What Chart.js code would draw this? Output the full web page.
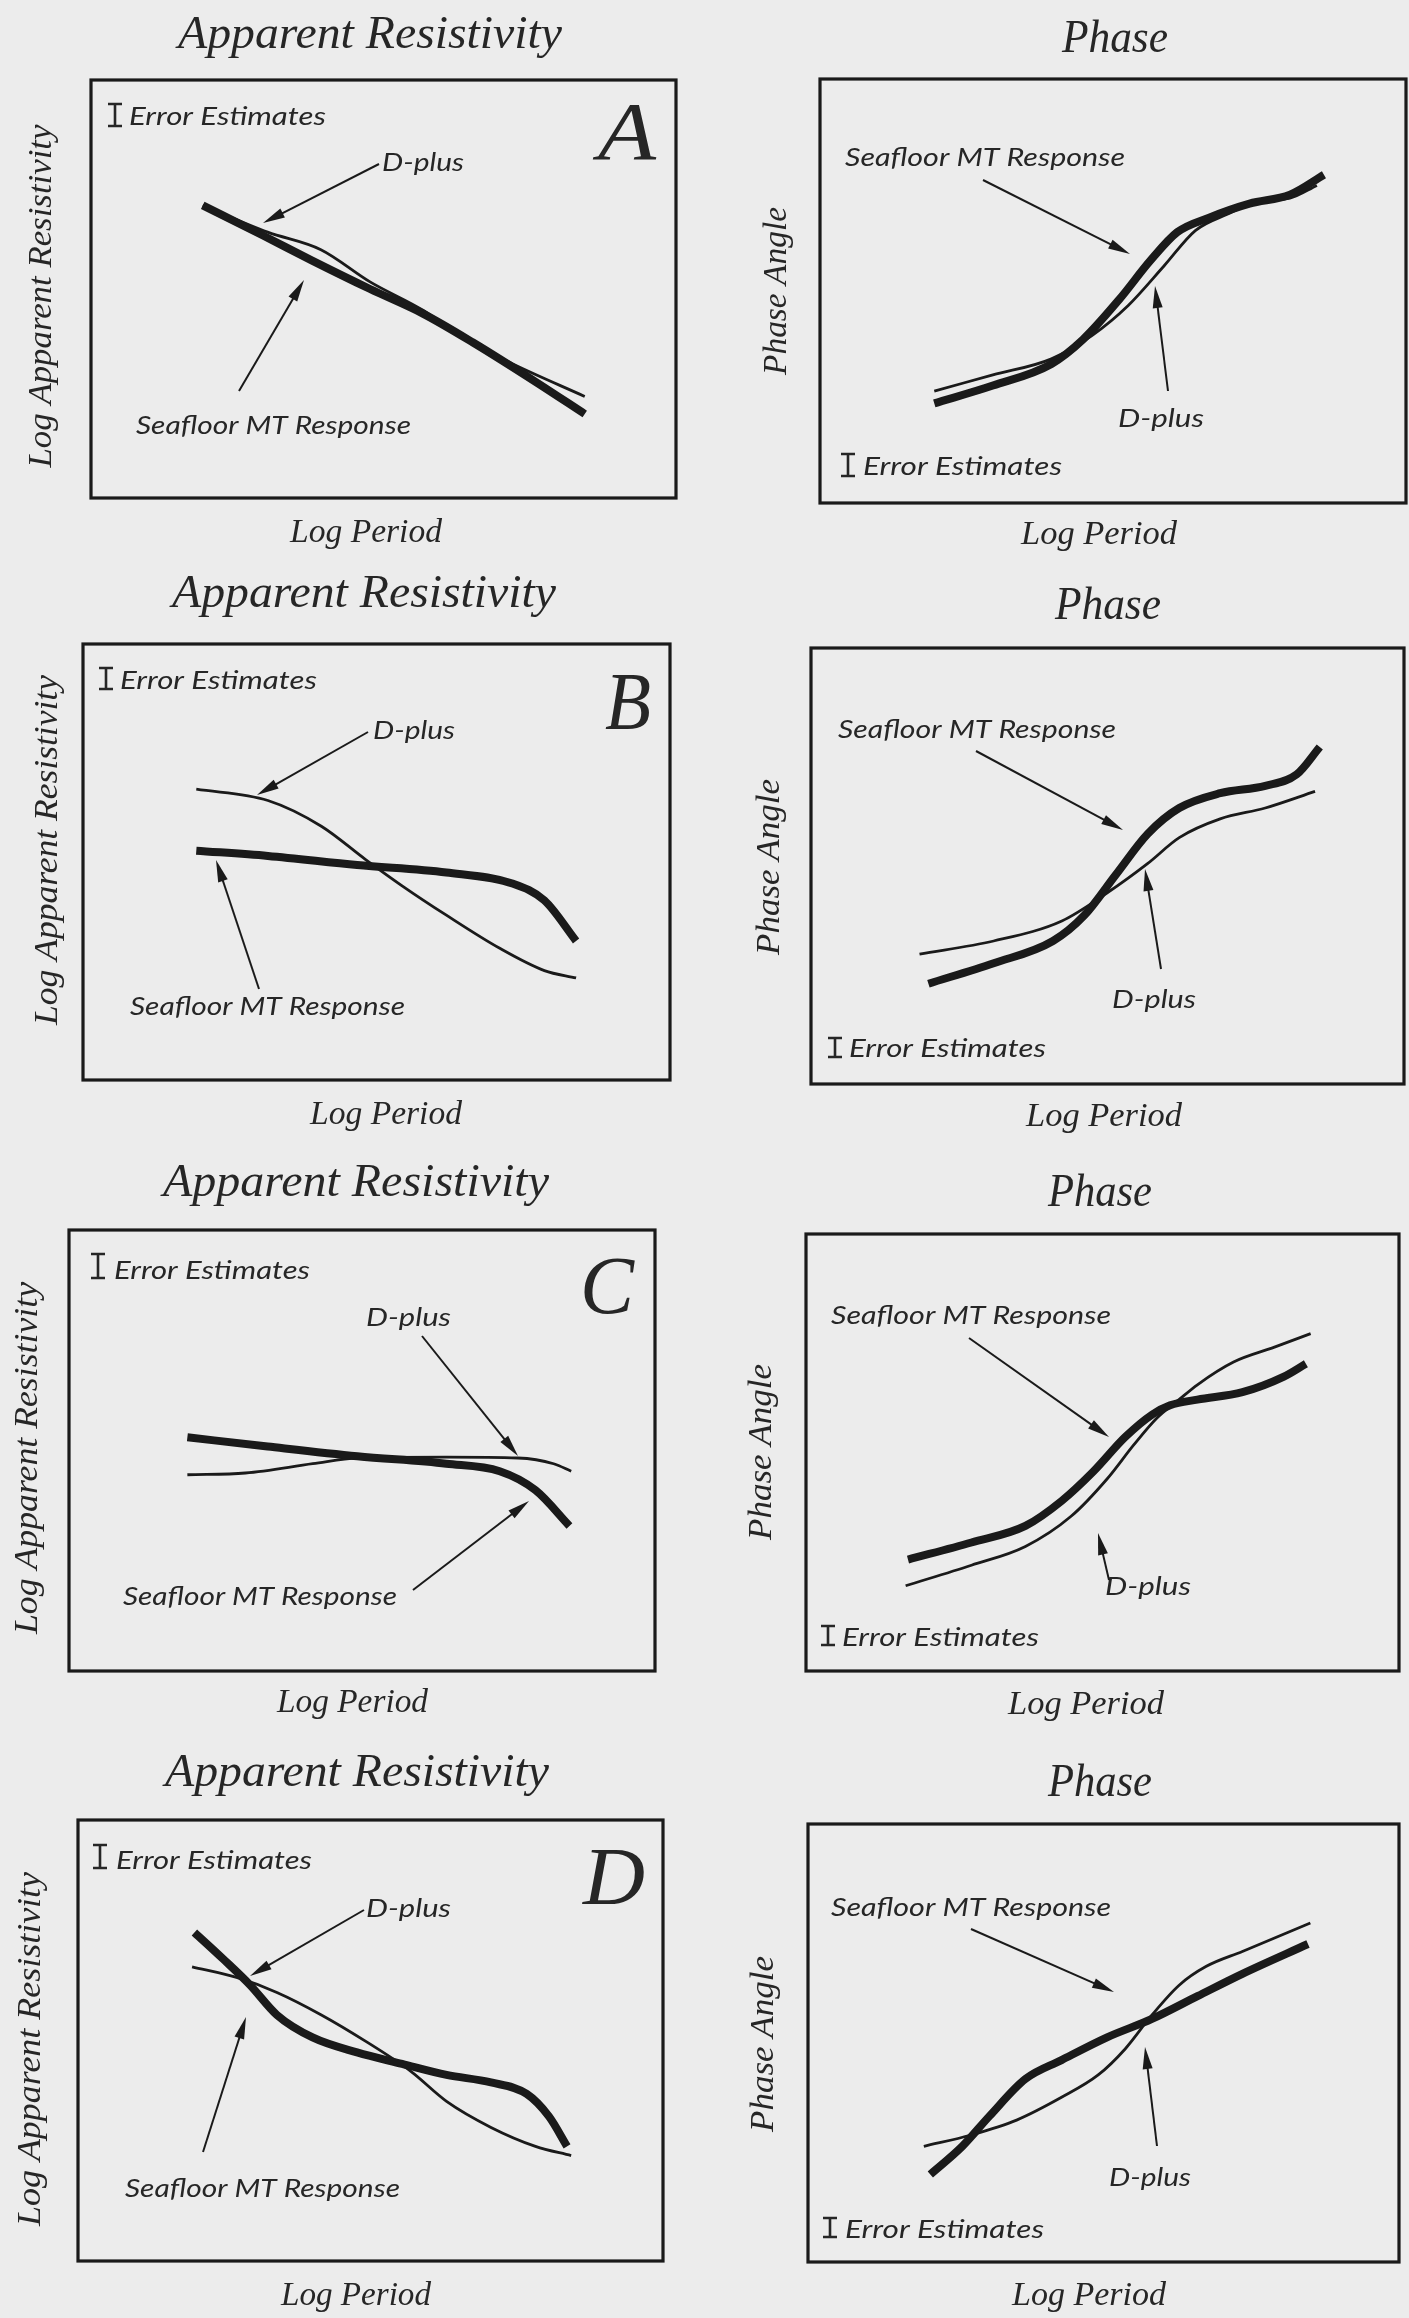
<!DOCTYPE html>
<html>
<head>
<meta charset="utf-8">
<title>Seafloor MT Response and D-plus</title>
<script src="https://cdn.jsdelivr.net/npm/chart.js@4.4.1/dist/chart.umd.min.js"></script>
<style>
  html, body { margin: 0; padding: 0; background: #ececec; }
  #page { position: relative; width: 1409px; height: 2318px; overflow: hidden; background: #ececec; }
  #page canvas { position: absolute; }
</style>
</head>
<body>
<div id="page"></div>
<script>
// Log period runs 0-100 across each box, responses 0-100 up each box.

// A - apparent resistivity
const seaPeriodA = [19.1, 29.4, 37.8, 47.7, 56.9, 65.3, 76.0, 84.4];
const seaRhoA    = [70.0, 62.8, 56.8, 50.0, 44.0, 37.2, 27.8, 20.1];
const dpPeriodA  = [19.1, 30.2, 39.3, 47.7, 56.9, 63.8, 72.2, 84.4];
const dpRhoA     = [70.0, 63.6, 59.4, 51.7, 44.8, 38.0, 32.0, 24.3];
// A - phase
const seaPeriodPhA = [19.5, 29.5, 39.5, 44.9, 51.0, 56.4, 61.0, 66.4, 73.3, 80.2, 86.0];
const seaPhaseA    = [23.5, 27.7, 32.8, 38.6, 47.9, 57.2, 63.9, 67.3, 70.6, 72.7, 77.4];
const dpPeriodPhA  = [19.5, 29.5, 39.5, 46.4, 52.6, 58.7, 64.1, 69.5, 74.8, 80.2, 84.8];
const dpPhaseA     = [26.4, 30.2, 34.0, 39.5, 46.6, 55.9, 64.3, 68.1, 71.1, 71.9, 74.9];

// B - apparent resistivity
const seaPeriodB = [19.3, 31.5, 46.7, 61.9, 73.3, 78.6, 84.0];
const seaRhoB    = [52.6, 51.4, 49.3, 47.6, 45.0, 41.2, 31.9];
const dpPeriodB  = [19.3, 31.5, 40.6, 48.2, 54.3, 61.9, 71.0, 78.6, 84.0];
const dpRhoB     = [66.7, 64.1, 58.2, 50.5, 44.6, 37.8, 30.2, 25.1, 23.4];
// B - phase
const seaPeriodPhB = [19.8, 30.8, 40.8, 46.1, 51.4, 56.8, 62.1, 69.0, 76.6, 81.9, 85.8];
const seaPhaseB    = [23.0, 27.7, 32.8, 38.7, 48.0, 57.4, 63.3, 66.7, 68.4, 71.0, 77.3];
const dpPeriodPhB  = [18.3, 30.8, 42.3, 49.9, 56.8, 62.1, 69.0, 76.6, 85.0];
const dpPhaseB     = [29.8, 32.8, 37.4, 43.8, 50.6, 56.5, 60.8, 63.3, 67.1];

// C - apparent resistivity
const seaPeriodC = [20.2, 33.9, 49.2, 64.4, 73.5, 79.6, 85.4];
const seaRhoC    = [53.0, 50.9, 48.7, 47.0, 45.3, 41.0, 32.9];
const dpPeriodC  = [20.2, 30.1, 41.6, 49.2, 64.4, 76.6, 82.7, 85.7];
const dpRhoC     = [44.5, 44.9, 47.0, 48.3, 48.5, 48.3, 47.0, 45.3];
// C - phase
const seaPeriodPhC = [17.2, 27.9, 37.0, 43.1, 48.5, 53.8, 58.4, 61.4, 66.0, 73.6, 80.5, 84.3];
const seaPhaseC    = [25.5, 29.4, 33.2, 38.9, 45.7, 53.5, 58.7, 60.8, 62.1, 63.8, 67.3, 70.3];
const dpPeriodPhC  = [16.8, 27.9, 37.0, 44.7, 50.8, 55.3, 59.1, 62.9, 66.0, 72.1, 79.0, 85.1];
const dpPhaseC     = [19.5, 24.2, 28.5, 35.4, 44.0, 51.8, 57.8, 62.1, 65.5, 70.7, 74.1, 77.2];

// D - apparent resistivity
const seaPeriodD = [19.9, 24.8, 29.4, 34.0, 40.1, 47.7, 55.4, 63.0, 70.6, 76.7, 80.5, 83.6];
const seaRhoD    = [74.5, 68.5, 62.6, 55.8, 50.7, 47.3, 44.7, 42.2, 40.5, 37.9, 32.8, 26.0];
const dpPeriodD  = [19.5, 27.1, 34.0, 41.6, 49.2, 56.9, 63.0, 70.6, 78.2, 84.3];
const dpRhoD     = [66.7, 64.3, 60.9, 55.8, 49.8, 43.0, 36.2, 30.3, 26.0, 23.9];
// D - phase
const seaPeriodPhD = [20.7, 26.1, 30.7, 36.8, 42.9, 50.6, 58.2, 65.9, 73.5, 84.6];
const seaPhaseD    = [20.0, 26.4, 33.3, 41.8, 46.1, 51.3, 55.5, 60.7, 65.8, 72.6];
const dpPeriodPhD  = [19.6, 27.6, 35.3, 42.9, 49.1, 53.7, 58.2, 62.8, 67.4, 73.5, 85.0];
const dpPhaseD     = [26.4, 29.0, 32.4, 37.6, 42.7, 48.7, 56.4, 63.2, 67.5, 70.9, 77.4];

const INK = "#1a1a1a";
const TEXT_INK = "#262626";
const SERIF = '"Liberation Serif", serif';
const SANS = 'Lato, "Open Sans", sans-serif';

const pts = (xs, ys) => xs.map((x, i) => ({ x, y: ys[i] }));

// draw text from a left baseline point, squeezed/stretched to a set length
function putText(ctx, str, x, y, font, width) {
  ctx.font = font;
  const w = ctx.measureText(str).width;
  ctx.save();
  ctx.translate(x, y);
  if (width) ctx.scale(width / w, 1);
  ctx.textAlign = "left";
  ctx.textBaseline = "alphabetic";
  ctx.fillText(str, 0, 0);
  ctx.restore();
}

function putVertical(ctx, str, cx, cy, font, length) {
  ctx.font = font;
  const w = ctx.measureText(str).width;
  ctx.save();
  ctx.translate(cx, cy);
  ctx.rotate(-Math.PI / 2);
  if (length) ctx.scale(length / w, 1);
  ctx.textAlign = "center";
  ctx.textBaseline = "middle";
  ctx.fillText(str, 0, 0);
  ctx.restore();
}

function arrow(ctx, x1, y1, x2, y2) {
  const ang = Math.atan2(y2 - y1, x2 - x1);
  const headLen = 22, headW = 5;
  ctx.save();
  ctx.strokeStyle = INK;
  ctx.fillStyle = INK;
  ctx.lineWidth = 2;
  ctx.beginPath();
  ctx.moveTo(x1, y1);
  ctx.lineTo(x2 - Math.cos(ang) * headLen * 0.8, y2 - Math.sin(ang) * headLen * 0.8);
  ctx.stroke();
  ctx.translate(x2, y2);
  ctx.rotate(ang);
  ctx.beginPath();
  ctx.moveTo(0, 0);
  ctx.lineTo(-headLen, -headW);
  ctx.lineTo(-headLen, headW);
  ctx.closePath();
  ctx.fill();
  ctx.restore();
}

function errorBar(ctx, x, top, bottom) {
  ctx.save();
  ctx.strokeStyle = TEXT_INK;
  ctx.lineWidth = 2.6;
  ctx.beginPath();
  ctx.moveTo(x, top); ctx.lineTo(x, bottom);
  ctx.moveTo(x - 7, top + 1); ctx.lineTo(x + 7, top + 1);
  ctx.moveTo(x - 7, bottom - 1); ctx.lineTo(x + 7, bottom - 1);
  ctx.stroke();
  ctx.restore();
}

// box, titles, labels and pointers around each plot
const panelDecor = {
  id: "panelDecor",
  afterDatasetsDraw(chart, args, o) {
    const { ctx, chartArea: a } = chart;
    const [ox, oy] = o.origin;
    const X = v => v - ox, Y = v => v - oy;
    ctx.save();
    ctx.strokeStyle = INK;
    ctx.lineWidth = 3.2;
    ctx.strokeRect(a.left, a.top, a.right - a.left, a.bottom - a.top);

    ctx.fillStyle = TEXT_INK;
    putText(ctx, o.title.text, X(o.title.x), Y(o.title.y), `italic 46px ${SERIF}`, o.title.w);
    putVertical(ctx, o.yLabel.text, X(o.yLabel.x), Y(o.yLabel.y), `italic 34px ${SERIF}`, o.yLabel.len);
    putText(ctx, "Log Period", X(o.xLabel.x), Y(o.xLabel.y), `italic 34px ${SERIF}`, o.xLabel.w);

    errorBar(ctx, X(o.err.barX), Y(o.err.top), Y(o.err.bottom));
    putText(ctx, "Error Estimates", X(o.err.x), Y(o.err.y), `italic 25px ${SANS}`, o.err.w);

    if (o.letter) {
      putText(ctx, o.letter.text, X(o.letter.x), Y(o.letter.y), `italic 82px ${SERIF}`, o.letter.w);
    }

    putText(ctx, "D-plus", X(o.dplus.x), Y(o.dplus.y), `italic 25px ${SANS}`, o.dplus.w);
    arrow(ctx, X(o.dplus.from[0]), Y(o.dplus.from[1]), X(o.dplus.to[0]), Y(o.dplus.to[1]));
    putText(ctx, "Seafloor MT Response", X(o.sea.x), Y(o.sea.y), `italic 25px ${SANS}`, o.sea.w);
    arrow(ctx, X(o.sea.from[0]), Y(o.sea.from[1]), X(o.sea.to[0]), Y(o.sea.to[1]));
    ctx.restore();
  }
};

const RHO_TITLE = "Apparent Resistivity", RHO_AXIS = "Log Apparent Resistivity";
const PH_TITLE = "Phase", PH_AXIS = "Phase Angle";

const panels = [
  { // A, resistivity
    origin: [0, 0], size: [705, 560], box: [91, 80, 676, 498],
    sea: pts(seaPeriodA, seaRhoA), dp: pts(dpPeriodA, dpRhoA),
    title: { text: RHO_TITLE, x: 178, y: 48, w: 384 },
    yLabel: { text: RHO_AXIS, x: 42, y: 296, len: 343 },
    xLabel: { x: 290, y: 542, w: 152 },
    err: { barX: 115, top: 103, bottom: 127, x: 129, y: 125, w: 197 },
    letter: { text: "A", x: 598, y: 159, w: 58 },
    dplusLabel: { x: 382, y: 171, w: 82, from: [379, 164], to: [263, 223] },
    seaLabel: { x: 136, y: 434, w: 275, from: [239, 391], to: [304, 280] }
  },
  { // A, phase
    origin: [700, 0], size: [709, 560], box: [820, 79, 1406, 503],
    sea: pts(seaPeriodPhA, seaPhaseA), dp: pts(dpPeriodPhA, dpPhaseA),
    title: { text: PH_TITLE, x: 1062, y: 52, w: 106 },
    yLabel: { text: PH_AXIS, x: 777, y: 291, len: 168 },
    xLabel: { x: 1021, y: 544, w: 156 },
    err: { barX: 848, top: 453, bottom: 477, x: 863, y: 475, w: 199 },
    dplusLabel: { x: 1118, y: 427, w: 86, from: [1168, 391], to: [1155, 286] },
    seaLabel: { x: 845, y: 166, w: 280, from: [983, 180], to: [1130, 254] }
  },
  { // B, resistivity
    origin: [0, 560], size: [705, 580], box: [83, 644, 670, 1080],
    sea: pts(seaPeriodB, seaRhoB), dp: pts(dpPeriodB, dpRhoB),
    title: { text: RHO_TITLE, x: 172, y: 607, w: 384 },
    yLabel: { text: RHO_AXIS, x: 48, y: 850, len: 350 },
    xLabel: { x: 310, y: 1124, w: 152 },
    err: { barX: 106, top: 667, bottom: 690, x: 120, y: 689, w: 197 },
    letter: { text: "B", x: 605, y: 729, w: 46 },
    dplusLabel: { x: 373, y: 739, w: 82, from: [368, 732], to: [257, 795] },
    seaLabel: { x: 130, y: 1015, w: 275, from: [259, 989], to: [216, 860] }
  },
  { // B, phase
    origin: [700, 560], size: [709, 580], box: [811, 648, 1404, 1084],
    sea: pts(seaPeriodPhB, seaPhaseB), dp: pts(dpPeriodPhB, dpPhaseB),
    title: { text: PH_TITLE, x: 1055, y: 619, w: 106 },
    yLabel: { text: PH_AXIS, x: 770, y: 867, len: 176 },
    xLabel: { x: 1026, y: 1126, w: 156 },
    err: { barX: 835, top: 1037, bottom: 1058, x: 849, y: 1057, w: 197 },
    dplusLabel: { x: 1112, y: 1008, w: 84, from: [1161, 969], to: [1145, 869] },
    seaLabel: { x: 838, y: 738, w: 278, from: [976, 751], to: [1123, 830] }
  },
  { // C, resistivity
    origin: [0, 1140], size: [705, 590], box: [69, 1230, 655, 1671],
    sea: pts(seaPeriodC, seaRhoC), dp: pts(dpPeriodC, dpRhoC),
    title: { text: RHO_TITLE, x: 163, y: 1196, w: 386 },
    yLabel: { text: RHO_AXIS, x: 28, y: 1458, len: 352 },
    xLabel: { x: 277, y: 1712, w: 151 },
    err: { barX: 98, top: 1253, bottom: 1279, x: 114, y: 1279, w: 196 },
    letter: { text: "C", x: 580, y: 1313, w: 54 },
    dplusLabel: { x: 366, y: 1326, w: 85, from: [422, 1336], to: [518, 1456] },
    seaLabel: { x: 123, y: 1605, w: 274, from: [413, 1590], to: [529, 1501] }
  },
  { // C, phase
    origin: [700, 1140], size: [709, 590], box: [806, 1234, 1399, 1671],
    sea: pts(seaPeriodPhC, seaPhaseC), dp: pts(dpPeriodPhC, dpPhaseC),
    title: { text: PH_TITLE, x: 1048, y: 1206, w: 104 },
    yLabel: { text: PH_AXIS, x: 762, y: 1452, len: 176 },
    xLabel: { x: 1008, y: 1714, w: 156 },
    err: { barX: 828, top: 1625, bottom: 1646, x: 842, y: 1646, w: 197 },
    dplusLabel: { x: 1105, y: 1595, w: 86, from: [1109, 1580], to: [1098, 1533] },
    seaLabel: { x: 831, y: 1324, w: 280, from: [969, 1338], to: [1109, 1437] }
  },
  { // D, resistivity
    origin: [0, 1730], size: [705, 588], box: [78, 1820, 663, 2261],
    sea: pts(seaPeriodD, seaRhoD), dp: pts(dpPeriodD, dpRhoD),
    title: { text: RHO_TITLE, x: 165, y: 1786, w: 384 },
    yLabel: { text: RHO_AXIS, x: 31, y: 2049, len: 354 },
    xLabel: { x: 281, y: 2305, w: 150 },
    err: { barX: 100, top: 1844, bottom: 1869, x: 116, y: 1869, w: 196 },
    letter: { text: "D", x: 583, y: 1904, w: 62 },
    dplusLabel: { x: 366, y: 1917, w: 85, from: [364, 1910], to: [250, 1976] },
    seaLabel: { x: 125, y: 2197, w: 275, from: [203, 2152], to: [246, 2017] }
  },
  { // D, phase
    origin: [700, 1730], size: [709, 588], box: [808, 1824, 1399, 2262],
    sea: pts(seaPeriodPhD, seaPhaseD), dp: pts(dpPeriodPhD, dpPhaseD),
    title: { text: PH_TITLE, x: 1048, y: 1796, w: 104 },
    yLabel: { text: PH_AXIS, x: 764, y: 2044, len: 176 },
    xLabel: { x: 1012, y: 2305, w: 154 },
    err: { barX: 830, top: 2217, bottom: 2238, x: 845, y: 2238, w: 199 },
    dplusLabel: { x: 1109, y: 2186, w: 82, from: [1157, 2146], to: [1145, 2047] },
    seaLabel: { x: 831, y: 1916, w: 280, from: [971, 1929], to: [1114, 1992] }
  }
];

const page = document.getElementById("page");

panels.forEach(p => {
  const [ox, oy] = p.origin;
  const [w, h] = p.size;
  const [l, t, r, b] = p.box;
  const canvas = document.createElement("canvas");
  canvas.width = w;
  canvas.height = h;
  canvas.style.left = ox + "px";
  canvas.style.top = oy + "px";
  page.appendChild(canvas);

  const curve = {
    pointRadius: 0,
    fill: false,
    borderColor: INK,
    cubicInterpolationMode: "monotone",
    borderCapStyle: "butt",
    borderJoinStyle: "round"
  };

  new Chart(canvas, {
    type: "line",
    data: {
      datasets: [
        { ...curve, label: "Seafloor MT Response", data: p.sea, borderWidth: 8 },
        { ...curve, label: "D-plus", data: p.dp, borderWidth: 2.8 }
      ]
    },
    options: {
      responsive: false,
      animation: false,
      events: [],
      layout: { padding: { left: l - ox, top: t - oy, right: ox + w - r, bottom: oy + h - b } },
      scales: {
        x: { type: "linear", min: 0, max: 100, display: false },
        y: { type: "linear", min: 0, max: 100, display: false }
      },
      plugins: {
        legend: { display: false },
        tooltip: { enabled: false },
        panelDecor: {
          origin: p.origin,
          title: p.title,
          yLabel: p.yLabel,
          xLabel: p.xLabel,
          err: p.err,
          letter: p.letter,
          dplus: p.dplusLabel,
          sea: p.seaLabel
        }
      }
    },
    plugins: [panelDecor]
  });
});
</script>
</body>
</html>
